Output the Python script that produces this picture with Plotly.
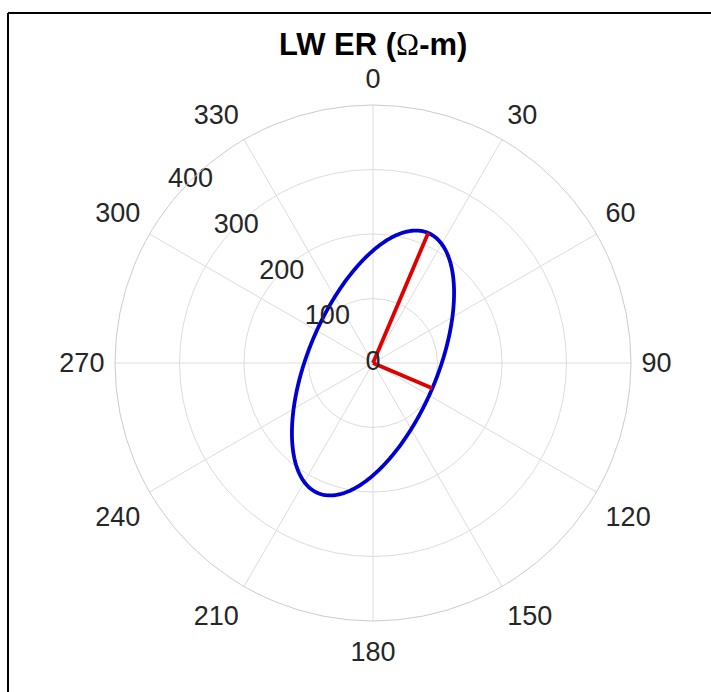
import numpy as np
import plotly.graph_objects as go

# Principal apparent resistivities (Ω-m) and their azimuths (degrees, clockwise from north)
principal_labels = ["major", "minor"]
principal_rho = [219, 100]
principal_azimuth = [23, 113]

# Polar axis ticks
angle_ticks = [0, 30, 60, 90, 120, 150, 180, 210, 240, 270, 300, 330]
radial_ticks = [0, 100, 200, 300, 400]
radial_max = 400
radial_label_azimuth = 315

W, H = 711, 692
cx, cy, R = 373, 363, 258      # plot centre and rim radius in pixels
R_outer = 322                  # radius of the overlay used for rim labels
outer_max = radial_max * R_outer / R
tick_font_size = 27

a, b = principal_rho
az = principal_azimuth[0]

# Resistivity ellipse traced from its principal values
phi = np.linspace(0, 360, 721)
d = np.radians(phi - az)
r_ell = a * b / np.sqrt((b * np.cos(d)) ** 2 + (a * np.sin(d)) ** 2)


def rim_label_position(angle, text):
    """Polar (r, theta) of a rim label aligned against an anchor just off the rim."""
    t = np.radians(angle)
    s, c = np.sin(t), np.cos(t)
    anchor = R + 10.6
    x = anchor * s
    y = -anchor * c                      # pixels, y grows down the page
    half_w = 0.278 * tick_font_size * len(text)
    if abs(s) > 1e-6:
        x += np.sign(s) * half_w         # left/right aligned on the sides
    if c > 1e-6:
        y -= 15.4                        # bottom aligned above the rim
    elif c < -1e-6:
        y += 20.2                        # top aligned below the rim
    y += 2                               # text baseline correction
    r_px = np.hypot(x, y)
    theta = np.degrees(np.arctan2(x, -y)) % 360
    return radial_max * r_px / R, theta


font_family = "Liberation Sans, Arial, Helvetica, sans-serif"
text_color = "#262626"
grid_color = "#dcdcdc"


def domain(radius):
    return dict(
        x=[(cx - radius) / W, (cx + radius) / W],
        y=[(H - cy - radius) / H, (H - cy + radius) / H],
    )


fig = go.Figure()

fig.add_trace(go.Scatterpolar(
    r=r_ell, theta=phi, mode="lines",
    line=dict(color="#0000d2", width=3.8),
    hoverinfo="skip", showlegend=False,
))

for rho, ang in zip(principal_rho, principal_azimuth):
    fig.add_trace(go.Scatterpolar(
        r=[0, rho], theta=[ang, ang], mode="lines",
        line=dict(color="#e00000", width=3.8),
        hoverinfo="skip", showlegend=False,
    ))

# Radial tick labels along the 315° spoke
fig.add_trace(go.Scatterpolar(
    r=radial_ticks, theta=[radial_label_azimuth] * len(radial_ticks),
    mode="text", text=[str(v) for v in radial_ticks],
    textposition="middle center",
    textfont=dict(family=font_family, size=tick_font_size, color=text_color),
    cliponaxis=False, hoverinfo="skip", showlegend=False,
))

# Angular tick labels around the rim (on a concentric, invisible overlay)
angle_text = [str(t) for t in angle_ticks]
label_pos = [rim_label_position(t, s) for t, s in zip(angle_ticks, angle_text)]
fig.add_trace(go.Scatterpolar(
    r=[p[0] for p in label_pos],
    theta=[p[1] for p in label_pos],
    mode="text", text=angle_text,
    textposition="middle center",
    textfont=dict(family=font_family, size=tick_font_size, color=text_color),
    cliponaxis=False, hoverinfo="skip", showlegend=False,
    subplot="polar2",
))

hidden_angular = dict(
    rotation=90, direction="clockwise", visible=False,
    showgrid=False, showline=False, showticklabels=False, ticks="",
)
hidden_radial = dict(
    range=[0, outer_max], visible=False,
    showgrid=False, showline=False, showticklabels=False, ticks="",
)

title_text = (
    "<b>LW ER (</b>"
    "<span style='font-family:Liberation Serif, Times New Roman, serif;"
    "font-weight:normal'>Ω</span>"
    "<b>-m)</b>"
)

fig.update_layout(
    width=W, height=H,
    margin=dict(l=0, r=0, t=0, b=0),
    paper_bgcolor="white",
    plot_bgcolor="white",
    showlegend=False,
    polar=dict(
        domain=domain(R),
        bgcolor="white",
        angularaxis=dict(
            rotation=90, direction="clockwise",
            tickmode="array", tickvals=angle_ticks,
            showticklabels=False,
            ticks="", showline=True, linecolor="#cccccc", linewidth=1,
            gridcolor=grid_color, gridwidth=1,
        ),
        radialaxis=dict(
            range=[0, radial_max], tickmode="array",
            tickvals=radial_ticks[1:-1],
            showticklabels=False, ticks="", showline=False,
            gridcolor=grid_color, gridwidth=1,
        ),
    ),
    polar2=dict(
        domain=domain(R_outer),
        bgcolor="rgba(0,0,0,0)",
        angularaxis=hidden_angular,
        radialaxis=hidden_radial,
    ),
    annotations=[dict(
        text=title_text, x=cx / W, y=1 - 45 / H,
        xref="paper", yref="paper", xanchor="center", yanchor="middle",
        showarrow=False,
        font=dict(family=font_family, size=31, color="#000000"),
    )],
    shapes=[
        dict(type="line", xref="paper", yref="paper",
             x0=8 / W, y0=1 - 13 / H, x1=1, y1=1 - 13 / H,
             line=dict(color="black", width=2)),
        dict(type="line", xref="paper", yref="paper",
             x0=8 / W, y0=1 - 13 / H, x1=8 / W, y1=0,
             line=dict(color="black", width=2)),
    ],
)

fig.write_html("out.html")
